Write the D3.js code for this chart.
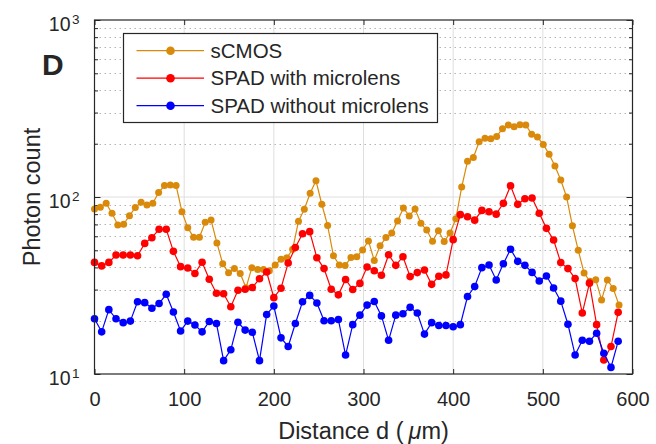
<!DOCTYPE html>
<html><head><meta charset="utf-8">
<script src="https://cdn.jsdelivr.net/npm/d3@7"></script>
<style>
body{margin:0;background:#fff;}
svg{display:block;}
text{font-family:"Liberation Sans",Arial,Helvetica,sans-serif;fill:#262626;}
</style>
</head><body><svg id="c" width="656" height="444"></svg>
<script>
// ---------------- data ----------------
const sCMOSDistance = [0,6.5,13,19.5,26,32.5,39,45.5,52,58.5,65,71.5,78,84.5,91,97.5,104,110.5,117,123.5,
 130,136.5,143,149.5,156,162.5,169,175.5,182,188.5,195,201.5,208,214.5,221,227.5,234,240.5,247,253.5,
 260,266.5,273,279.5,286,292.5,299,305.5,312,318.5,325,331.5,338,344.5,351,357.5,364,370.5,377,383.5,
 390,396.5,403,409.5,416,422.5,429,435.5,442,448.5,455,461.5,468,474.5,481,487.5,494,500.5,507,513.5,
 520,526.5,533,539.5,546,552.5,559,565.5,572,578.5,585];
const sCMOSCount = [85.5,87.4,92.1,80.9,69.5,70.1,78.4,87.1,93.3,90.1,
 92.1,106,116,117,116,82.6,67.1,59.2,59.2,71.9,
 74.1,55,42,37.3,39.5,37,30.7,39.9,39,39,
 38.3,41.3,44.5,45.3,50.7,73,85.3,105,123.5,91,
 69,46.5,41.3,41,45.5,46,50.2,56.5,43.8,53,
 59,62.6,73.2,86.7,78.2,85.5,71,65.1,56.2,64.4,
 56,62.7,75.3,113.8,159,167,205,214.5,213.6,220,
 243,255,249.5,256,255,226.5,218,198.2,174.5,149.6,
 124.7,100,68.7,50,37.2,33.4,34.1,26.2,34,30.4,
 24.5];
const spadDistance = [0,8,16,24,32,40,48,56,64,72,80,88,96,104,112,120,128,136,144,152,
 160,168,176,184,192,200,208,216,224,232,240,248,256,264,272,280,288,296,304,312,
 320,328,336,344,352,360,368,376,384,392,400,408,416,424,432,440,448,456,464,472,
 480,488,496,504,512,520,528,536,544,552,560,568,576,584];
const spadWithLens = [42.7,40.8,42.7,47.0,47.0,47.0,46.6,54.7,58.9,65.7,
 65.7,49.3,40.4,39.7,37.0,42.8,34.3,28.6,28.4,24.0,
 29.7,30.1,30.8,34.5,37.7,27.0,30.5,42.4,51.8,62,
 63.7,45.4,39.4,30.1,28.0,34.2,30,32.5,40.2,38.3,
 36.1,47.2,41.1,46.0,35.5,37.4,38.7,32.1,35.7,36.3,
 57.4,79.5,77.4,74.0,84,82.6,80,92.1,115.7,90.9,
 97.7,98.8,80.9,66.5,57.2,42.6,39.4,34.6,22.1,32.6,
 19.0,12.0,14.3,22.3];
const spadWithoutLens = [20.5,17.3,23.1,20.5,19.5,19.9,25.6,25.3,23.5,25.0,
 28.2,22.4,17.5,19.9,18.9,17.3,19.8,19.3,11.9,13.7,
 19.6,17.7,17.2,11.9,21.7,24.2,16.0,14.3,19.3,25.6,
 27.8,25.2,20.0,20.0,20.3,12.8,19.0,21.5,24.5,25.7,
 21.3,15.5,21.5,21.9,23.8,22.1,16.8,19.5,18.8,18.8,
 18.5,19.0,27.4,31.2,39.9,41.3,34.0,42.0,50.7,43.3,
 41.1,37.5,33.5,35.8,30.6,25.8,19.1,12.8,15.5,15.3,
 17.0,13.1,10.9,15.3];
const xTicks = [0,100,200,300,400,500,600];
const yDecades = [10,100,1000];
const yExponents = ["1","2","3"];
const yMinor = [20,30,40,50,60,70,80,90,200,300,400,500,600,700,800,900];
const seriesNames = ["sCMOS","SPAD with microlens","SPAD without microlens"];
const seriesColors = ["#DA8A0B","#FF0000","#0000FF"];
const panelLabel = "D";
const xTitle = "Distance d (";
const yTitle = "Photon count";

// ---------------- layout ----------------
const svg = d3.select("#c");
const m = {left:94.5, right:632.5, top:20, bottom:374};
const x = d3.scaleLinear().domain([0,600]).range([m.left, m.right]);
const y = d3.scaleLog().domain([10,1000]).range([m.bottom, m.top]);
const axisColor = "#262626";
const fontSize = 20;
const titleSize = 23.5;

// grid
const grid = svg.append("g");
grid.selectAll("line.vg").data(xTicks.slice(1,-1)).join("line")
  .attr("x1", d=>x(d)).attr("x2", d=>x(d)).attr("y1", m.top).attr("y2", m.bottom)
  .attr("stroke", "#dedede").attr("stroke-width", 1);
grid.selectAll("line.hg").data([100]).join("line")
  .attr("x1", m.left).attr("x2", m.right).attr("y1", d=>y(d)).attr("y2", d=>y(d))
  .attr("stroke", "#dedede").attr("stroke-width", 1);
grid.selectAll("line.mg").data(yMinor).join("line")
  .attr("x1", m.left).attr("x2", m.right).attr("y1", d=>Math.round(y(d))+0.5).attr("y2", d=>Math.round(y(d))+0.5)
  .attr("stroke", "#b4b4b4").attr("stroke-width", 1).attr("stroke-dasharray", "1.5,3.5");

// axes (ticks inside)
function styleAxis(g){
  g.select(".domain").remove();
  g.selectAll(".tick line").attr("stroke", axisColor);
  g.selectAll(".tick text").attr("fill", axisColor).attr("font-size", fontSize)
    .attr("font-family", '"Liberation Sans",Arial,Helvetica,sans-serif');
}
svg.append("g").attr("transform", `translate(0,${m.bottom})`)
  .call(d3.axisBottom(x).tickValues(xTicks).tickSizeInner(-5).tickSizeOuter(0).tickPadding(18))
  .call(styleAxis);
svg.append("g").attr("transform", `translate(0,${m.top})`)
  .call(d3.axisTop(x).tickValues(xTicks).tickSizeInner(-5).tickSizeOuter(0).tickFormat(""))
  .call(styleAxis);
svg.append("g").attr("transform", `translate(${m.left},0)`)
  .call(d3.axisLeft(y).tickValues(yDecades).tickSizeInner(-6).tickSizeOuter(0).tickFormat(""))
  .call(styleAxis);
svg.append("g").attr("transform", `translate(${m.left},0)`)
  .call(d3.axisLeft(y).tickValues(yMinor).tickSizeInner(-3.5).tickSizeOuter(0).tickFormat(""))
  .call(styleAxis);
svg.append("g").attr("transform", `translate(${m.right},0)`)
  .call(d3.axisRight(y).tickValues(yDecades).tickSizeInner(-6).tickSizeOuter(0).tickFormat(""))
  .call(styleAxis);
svg.append("g").attr("transform", `translate(${m.right},0)`)
  .call(d3.axisRight(y).tickValues(yMinor).tickSizeInner(-3.5).tickSizeOuter(0).tickFormat(""))
  .call(styleAxis);

// y tick labels 10^n
const yl = svg.append("g");
yl.selectAll("text.base").data(yDecades).join("text")
  .attr("x", 70.5).attr("y", d=>y(d)+10.5).attr("text-anchor","end")
  .attr("font-size", 19.5).text("10");
yl.selectAll("text.exp").data(yDecades).join("text")
  .attr("x", 72).attr("y", d=>y(d)+3.5)
  .attr("font-size", 13.5).text((d,i)=>yExponents[i]);

// series
const series = [
  {name: seriesNames[0], color: seriesColors[0], xs: sCMOSDistance, ys: sCMOSCount, r: 3.5},
  {name: seriesNames[1], color: seriesColors[1], xs: spadDistance, ys: spadWithLens, r: 3.8},
  {name: seriesNames[2], color: seriesColors[2], xs: spadDistance, ys: spadWithoutLens, r: 3.8}
];
const line = d3.line().x(d=>x(d[0])).y(d=>y(d[1]));
const plot = svg.append("g");
series.forEach(s=>{
  const pts = s.xs.map((d,i)=>[d, s.ys[i]]);
  const g = plot.append("g");
  g.append("path").datum(pts).attr("d", line).attr("fill","none")
    .attr("stroke", s.color).attr("stroke-width", 1.2);
  g.selectAll("circle").data(pts).join("circle")
    .attr("cx", d=>x(d[0])).attr("cy", d=>y(d[1])).attr("r", s.r).attr("fill", s.color);
});

// box
svg.append("rect").attr("x", m.left).attr("y", m.top)
  .attr("width", m.right-m.left).attr("height", m.bottom-m.top)
  .attr("fill","none").attr("stroke", axisColor).attr("stroke-width", 1.2);

// legend
const lg = svg.append("g");
lg.append("rect").attr("x", 123.5).attr("y", 33.5).attr("width", 314).attr("height", 89)
  .attr("fill", "#fff").attr("stroke", axisColor).attr("stroke-width", 1.2);
series.forEach((s,i)=>{
  const yy = 50.7 + i*27.5;
  lg.append("line").attr("x1", 136.5).attr("x2", 204).attr("y1", yy).attr("y2", yy)
    .attr("stroke", s.color).attr("stroke-width", 1.2);
  lg.append("circle").attr("cx", 170.5).attr("cy", yy).attr("r", 4.3).attr("fill", s.color);
  lg.append("text").attr("x", 210.5).attr("y", yy+7).attr("font-size", 20.5).text(s.name);
});

// titles
svg.append("text").attr("x", (m.left+m.right)/2).attr("y", 439).attr("text-anchor","middle")
  .attr("font-size", titleSize)
  .call(t=>{
    t.append("tspan").text(xTitle);
    t.append("tspan").attr("font-style","italic").attr("dx", 5).text("\u03bc");
    t.append("tspan").text("m)");
  });
svg.append("text").attr("transform", `translate(40,${(m.top+m.bottom)/2}) rotate(-90)`)
  .attr("text-anchor","middle").attr("font-size", titleSize).text(yTitle);
svg.append("text").attr("x", 42).attr("y", 75).attr("font-size", 30).attr("font-weight","bold")
  .attr("fill","#000").text(panelLabel);
</script>
</body></html>
